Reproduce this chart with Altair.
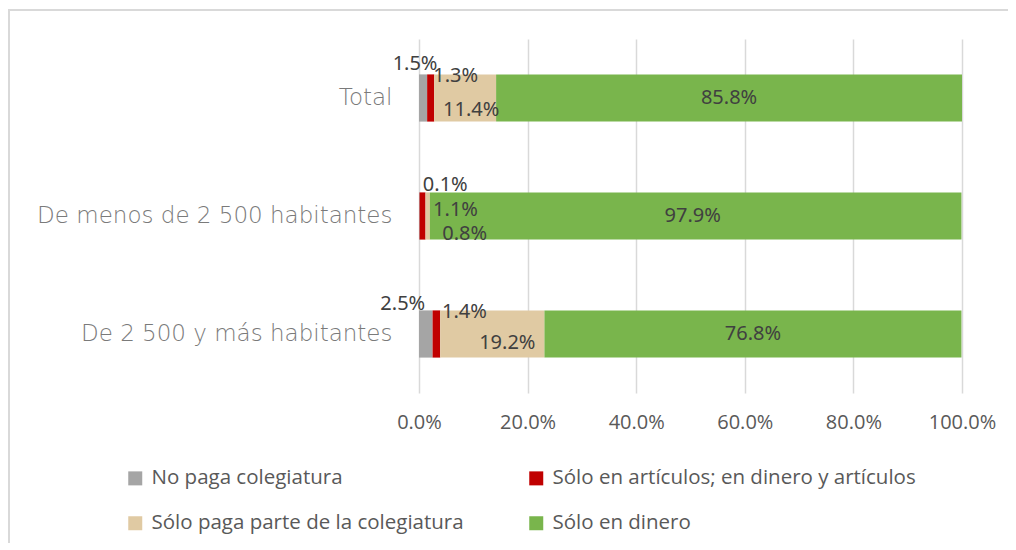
import altair as alt
import pandas as pd

categories = ["Total", "De menos de 2 500 habitantes", "De 2 500 y más habitantes"]
series = [
    "No paga colegiatura",
    "Sólo en artículos; en dinero y artículos",
    "Sólo paga parte de la colegiatura",
    "Sólo en dinero",
]
colors = ["#A5A5A5", "#C00000", "#E0CAA3", "#79B54C"]

no_paga = [1.5, 0.1, 2.5]
articulos = [1.3, 1.1, 1.4]
parte = [11.4, 0.8, 19.2]
dinero = [85.8, 97.9, 76.8]

x_ticks = [0, 20, 40, 60, 80, 100]

# label nudges in pixels (style), same order as rows below
label_dx = [[-8, 25, 6, 0], [26, 33, 37, -3], [-23, 28, 15, 0]]
label_dy = [[-34, -22, 12, 0], [-31, -6, 18, 0], [-30, -22, 9, 0]]

rows = []
for ci, cat in enumerate(categories):
    start = 0.0
    for si, vals in enumerate([no_paga, articulos, parte, dinero]):
        v = vals[ci]
        rows.append({
            "cat": cat, "serie": series[si], "order": si, "value": v,
            "start": start, "end": start + v, "mid": start + v / 2,
            "label": f"{v:.1f}%", "dx": label_dx[ci][si], "dy": label_dy[ci][si],
        })
        start += v
df = pd.DataFrame(rows)

CAT_FONT = "DejaVu Sans"
LBL_FONT = "Noto Sans"
AX_FONT = "Open Sans"

y_enc = alt.Y("cat:N", sort=categories, title=None,
              scale=alt.Scale(paddingInner=0.6, paddingOuter=0.3),
              axis=alt.Axis(domain=False, ticks=False, labelPadding=27, labelLimit=600,
                            labelFont=CAT_FONT, labelFontSize=23, labelFontWeight=200,
                            labelColor="#7A7A7A"))

bars = alt.Chart(df).mark_bar().encode(
    x=alt.X("start:Q", title=None,
            scale=alt.Scale(domain=[0, 100], nice=False),
            axis=alt.Axis(values=x_ticks, labelExpr="format(datum.value, '.1f') + '%'",
                          domain=False, ticks=False, grid=True, gridColor="#D9D9D9",
                          gridWidth=1.5, labelPadding=19, labelFont=AX_FONT,
                          labelFlush=False, labelOverlap=False, labelBound=False,
                          labelFontSize=20, labelColor="#595959")),
    x2="end:Q",
    y=y_enc,
    color=alt.Color("serie:N", sort=series,
                    scale=alt.Scale(domain=series, range=colors),
                    legend=alt.Legend(title=None, orient="none", legendX=-294, legendY=429,
                                      direction="horizontal", columns=2, symbolType="square",
                                      symbolSize=196, symbolStrokeWidth=0, symbolOffset=0,
                                      labelFont=AX_FONT, labelFontSize=20.5, labelColor="#595959",
                                      labelOffset=6, rowPadding=24, columnPadding=62,
                                      labelLimit=600)),
    order=alt.Order("order:Q"),
)

labels = alt.Chart(df).mark_text(
    font=LBL_FONT, fontSize=20, color="#404040",
    dx=alt.expr("datum.dx"), dy=alt.expr("datum.dy"),
).encode(
    x=alt.X("mid:Q"),
    y=alt.Y("cat:N", sort=categories),
    text="label:N",
)

frame = alt.Chart(alt.Data(values=[{"a": 1}])).mark_rect(
    fill=None, stroke="#D9D9D9", strokeWidth=2
).encode(
    x=alt.value(-410), x2=alt.value(620), y=alt.value(-29), y2=alt.value(560)
)

chart = alt.layer(frame, bars, labels).properties(
    width=543, height=354,
    autosize=alt.AutoSizeParams(type="none"),
    padding={"left": 411, "top": 31, "right": 46, "bottom": 150},
).configure_view(stroke=None)

chart.save("out.html", embed_options={"renderer": "svg", "actions": False})
